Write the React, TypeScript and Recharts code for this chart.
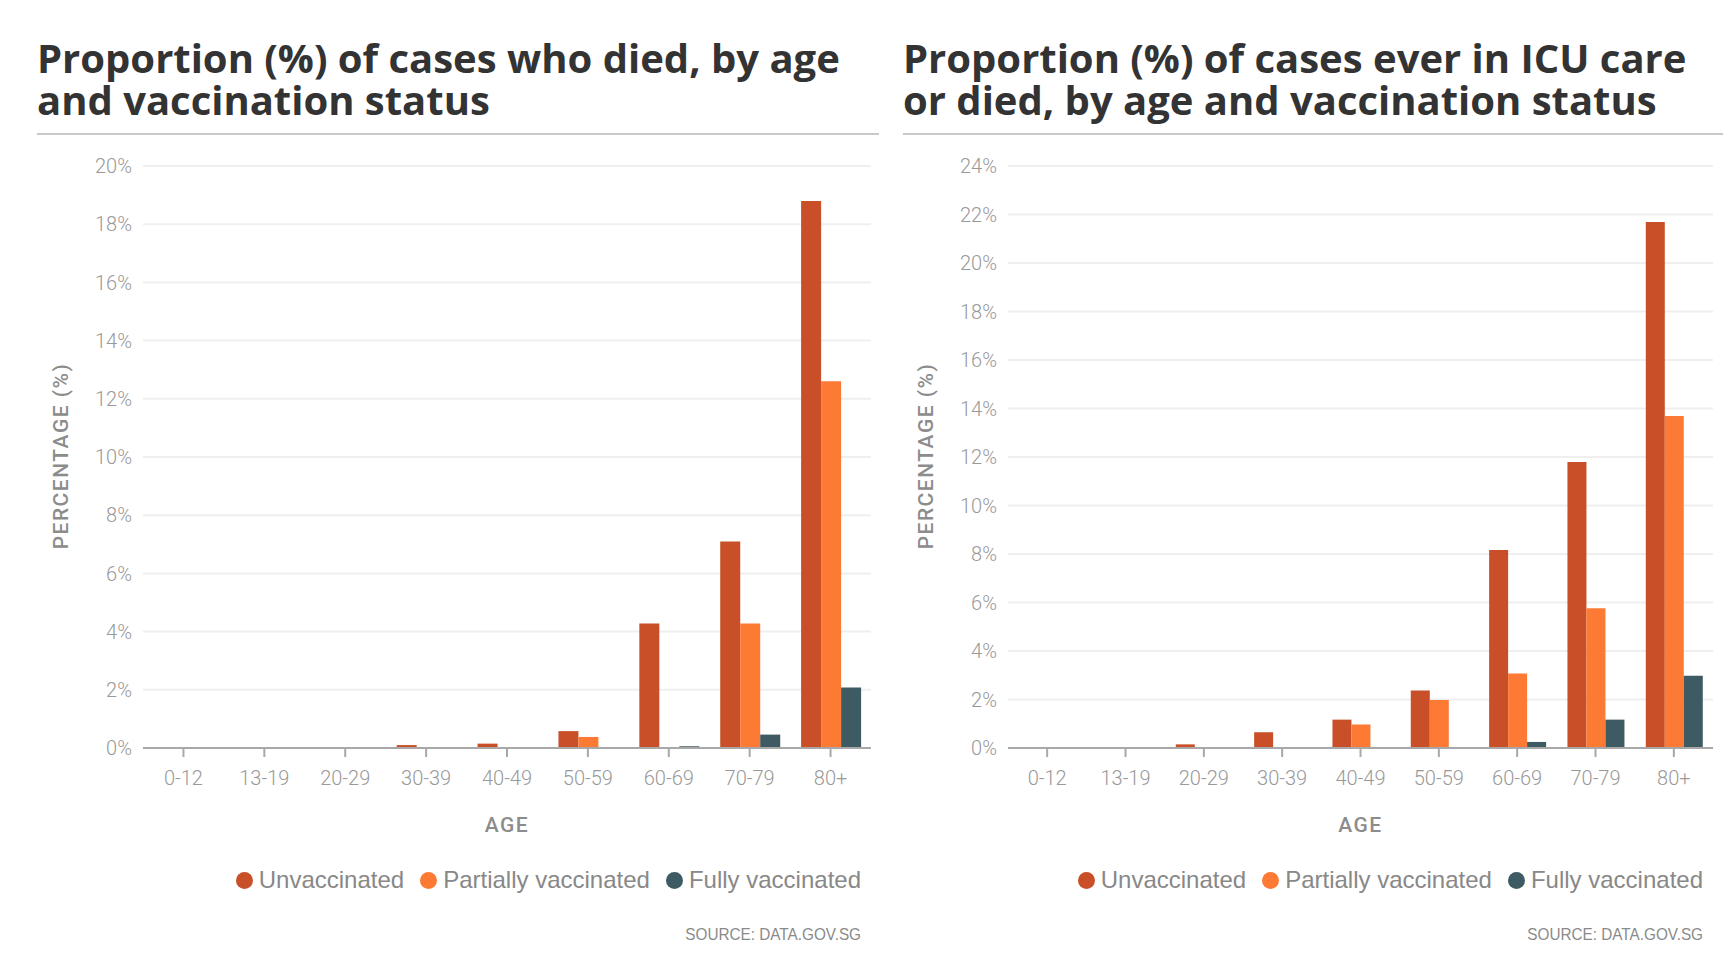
import { BarChart, Bar, XAxis, YAxis, CartesianGrid, Legend } from 'recharts'

const ageGroups = ['0-12', '13-19', '20-29', '30-39', '40-49', '50-59', '60-69', '70-79', '80+']

// proportion (%) of cases who died
const diedUnvaccinated = [0, 0, 0, 0.1, 0.15, 0.58, 4.28, 7.1, 18.8]
const diedPartial = [0, 0, 0, 0, 0, 0.38, 0, 4.28, 12.6]
const diedFully = [0, 0, 0, 0, 0, 0, 0.06, 0.46, 2.08]

// proportion (%) of cases ever in ICU care or died
const icuUnvaccinated = [0, 0, 0.15, 0.65, 1.17, 2.37, 8.16, 11.79, 21.69]
const icuPartial = [0, 0, 0, 0, 0.97, 1.98, 3.07, 5.76, 13.69]
const icuFully = [0, 0, 0, 0, 0, 0, 0.25, 1.17, 2.98]

const diedTicks = [0, 2, 4, 6, 8, 10, 12, 14, 16, 18, 20]
const icuTicks = [0, 2, 4, 6, 8, 10, 12, 14, 16, 18, 20, 22, 24]

const statusNames = ['Unvaccinated', 'Partially vaccinated', 'Fully vaccinated']
const statusColors = ['#c84f27', '#fd7a35', '#3e5a63']

const tickFont = "Roboto, 'Helvetica Neue', Arial, sans-serif"
const labelFont = "'Liberation Sans', Arial, sans-serif"

function buildRows(u: number[], p: number[], f: number[]) {
  return ageGroups.map((age, i) => ({ age, unvaccinated: u[i], partial: p[i], fully: f[i] }))
}

function LegendContent({ payload }: { payload?: Array<{ value: string, color: string }> }) {
  // recharts sorts legend items by name; put them back in series order
  const items = [...(payload ?? [])].sort((a, b) => statusNames.indexOf(a.value) - statusNames.indexOf(b.value))
  return (
    <div style={{ display: 'flex', justifyContent: 'flex-end', alignItems: 'center', fontFamily: labelFont, fontSize: 24, color: '#888' }}>
      {items.map((entry, i) => (
        <div key={entry.value} style={{ display: 'flex', alignItems: 'center', marginLeft: i === 0 ? 0 : 16 }}>
          <span style={{ width: 17, height: 17, borderRadius: '50%', background: entry.color, marginRight: 6, display: 'inline-block' }} />
          <span>{entry.value}</span>
        </div>
      ))}
    </div>
  )
}

interface PanelProps {
  left: number
  width: number
  yAxisWidth: number
  marginRight: number
  barGap: string
  titleLines: string[]
  titleLeft: number
  ruleWidth: number
  yLabelX: number
  rows: ReturnType<typeof buildRows>
  ticks: number[]
  legendRight: number
}

function Panel({ left, width, yAxisWidth, marginRight, barGap, titleLines, titleLeft, ruleWidth, yLabelX, rows, ticks, legendRight }: PanelProps) {
  const plotLeft = left + yAxisWidth
  const plotRight = left + width - marginRight
  const plotCenter = (plotLeft + plotRight) / 2

  return (
    <>
      <div
        style={{
          position: 'absolute', left: titleLeft, top: 37, whiteSpace: 'nowrap',
          fontFamily: "'Open Sans', sans-serif", fontWeight: 700, fontSize: 40, lineHeight: '42px', color: '#333',
        }}
      >
        {titleLines[0]}<br />{titleLines[1]}
      </div>
      <div style={{ position: 'absolute', left: titleLeft, top: 133, width: ruleWidth, height: 2, background: '#c9c9c9' }} />

      <div
        style={{
          position: 'absolute', left: yLabelX, top: 456,
          transform: 'translate(-50%, -50%) rotate(-90deg)', whiteSpace: 'nowrap',
          fontFamily: tickFont, fontWeight: 500, fontSize: 21, letterSpacing: 1.5, color: '#8c8c8c', lineHeight: 1,
        }}
      >
        PERCENTAGE (%)
      </div>

      <div style={{ position: 'absolute', left, top: 140 }}>
        <BarChart
          width={width}
          height={668}
          data={rows}
          margin={{ top: 26, right: marginRight, bottom: 0, left: 0 }}
          barCategoryGap={barGap}
          barGap={0}
        >
          <CartesianGrid vertical={false} stroke="#efefef" strokeWidth={2} />
          <XAxis
            dataKey="age"
            height={60}
            axisLine={{ stroke: '#a8a8a8', strokeWidth: 2 }}
            tickLine={{ stroke: '#a8a8a8', strokeWidth: 2 }}
            tickSize={9}
            tickMargin={14}
            tick={{ fontFamily: tickFont, fontWeight: 300, fontSize: 20, fill: '#999' }}
            interval={0}
          />
          <YAxis
            width={yAxisWidth}
            domain={[0, ticks[ticks.length - 1]]}
            ticks={ticks}
            interval={0}
            axisLine={false}
            tickLine={false}
            tickSize={0}
            tickMargin={11}
            tickFormatter={(v: number) => `${v}%`}
            tick={{ fontFamily: tickFont, fontWeight: 300, fontSize: 20, fill: '#999' }}
          />
          <Legend
            layout="horizontal"
            verticalAlign="middle"
            align="center"
            wrapperStyle={{ top: 726, left: 0, width: legendRight - left, height: 30 }}
            content={<LegendContent />}
          />
          <Bar dataKey="unvaccinated" name={statusNames[0]} fill={statusColors[0]} isAnimationActive={false} />
          <Bar dataKey="partial" name={statusNames[1]} fill={statusColors[1]} isAnimationActive={false} />
          <Bar dataKey="fully" name={statusNames[2]} fill={statusColors[2]} isAnimationActive={false} />
        </BarChart>
      </div>

      <div
        style={{
          position: 'absolute', left: plotCenter, top: 825, transform: 'translate(-50%, -50%)',
          fontFamily: tickFont, fontWeight: 500, fontSize: 21, letterSpacing: 1.5, color: '#8c8c8c', lineHeight: 1,
        }}
      >
        AGE
      </div>

      <div
        style={{
          position: 'absolute', left: legendRight - 300, width: 300, top: 926, textAlign: 'right',
          transform: 'scaleX(0.9)', transformOrigin: 'right center',
          fontFamily: labelFont, fontSize: 17, color: '#8a8a8a', lineHeight: '18px',
        }}
      >
        SOURCE: DATA.GOV.SG
      </div>
    </>
  )
}

export default function App() {
  const diedRows = buildRows(diedUnvaccinated, diedPartial, diedFully)
  const icuRows = buildRows(icuUnvaccinated, icuPartial, icuFully)

  return (
    <div style={{ position: 'absolute', left: 0, top: 0, width: 1730, height: 968, background: '#fff', overflow: 'hidden' }}>
      <Panel
        left={0}
        width={880}
        yAxisWidth={143}
        marginRight={9}
        barGap="13.6%"
        titleLines={['Proportion (%) of cases who died, by age', 'and vaccination status']}
        titleLeft={37}
        ruleWidth={842}
        yLabelX={61}
        rows={diedRows}
        ticks={diedTicks}
        legendRight={861}
      />
      <Panel
        left={880}
        width={850}
        yAxisWidth={128}
        marginRight={17}
        barGap="14.2%"
        titleLines={['Proportion (%) of cases ever in ICU care', 'or died, by age and vaccination status']}
        titleLeft={903}
        ruleWidth={820}
        yLabelX={926}
        rows={icuRows}
        ticks={icuTicks}
        legendRight={1703}
      />
    </div>
  )
}
